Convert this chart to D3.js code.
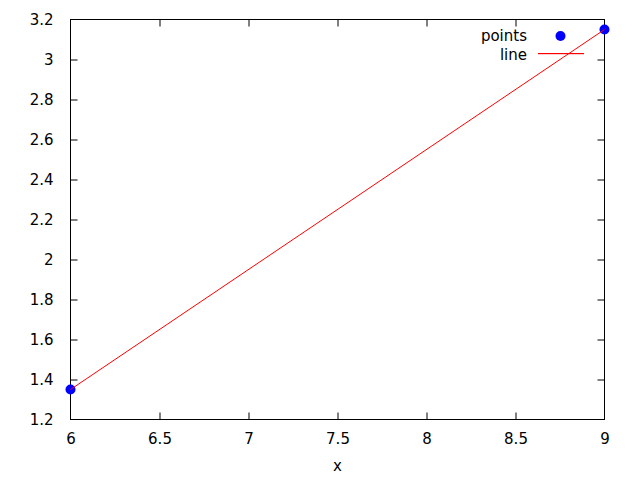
<!DOCTYPE html>
<html><head><meta charset="utf-8">
<script src="https://cdn.jsdelivr.net/npm/d3@7"></script>
<style>body{margin:0;background:#fff}svg{display:block}text{font-family:"DejaVu Sans",sans-serif;font-size:15px;fill:#000}</style>
</head><body><svg id="c" width="640" height="480"></svg>
<script>
const xs = [6, 9];
const ys = [1.35, 3.15];
const xTicks = [6, 6.5, 7, 7.5, 8, 8.5, 9];
const yTicks = [1.2, 1.4, 1.6, 1.8, 2, 2.2, 2.4, 2.6, 2.8, 3, 3.2];
const seriesNames = ["points", "line"];

const svg = d3.select("#c");
const L = 70.5, R = 604.5, T = 19.5, B = 419.5;
const x = d3.scaleLinear().domain([6, 9]).range([L, R]);
const y = d3.scaleLinear().domain([1.2, 3.2]).range([B, T]);
const fmt = d => String(d);

const axB = d3.axisBottom(x).tickValues(xTicks).tickFormat(fmt).tickSizeInner(-7).tickSizeOuter(0).tickPadding(14);
const axT = d3.axisTop(x).tickValues(xTicks).tickFormat("").tickSizeInner(-7).tickSizeOuter(0);
const axL = d3.axisLeft(y).tickValues(yTicks).tickFormat(fmt).tickSizeInner(-7).tickSizeOuter(0).tickPadding(17);
const axR = d3.axisRight(y).tickValues(yTicks).tickFormat("").tickSizeInner(-7).tickSizeOuter(0);

function style(g){ g.selectAll(".domain").remove(); g.selectAll("line").attr("stroke","#000"); g.selectAll("text").attr("font-size",15).attr("font-family","DejaVu Sans").attr("fill","#000"); }
const gb = svg.append("g").attr("transform",`translate(0,${B})`).call(axB).call(style);
gb.selectAll(".tick").filter(d=>d===6||d===9).select("line").remove();
const gt = svg.append("g").attr("transform",`translate(0,${T})`).call(axT).call(style);
gt.selectAll(".tick").filter(d=>d===6||d===9).select("line").remove();
const gl = svg.append("g").attr("transform",`translate(${L},0)`).call(axL).call(style);
gl.selectAll(".tick").filter(d=>d===1.2||d===3.2).select("line").remove();
const gr = svg.append("g").attr("transform",`translate(${R},0)`).call(axR).call(style);
gr.selectAll(".tick").filter(d=>d===1.2||d===3.2).select("line").remove();

svg.append("rect").attr("x",L).attr("y",T).attr("width",R-L).attr("height",B-T).attr("fill","none").attr("stroke","#000");

// points
svg.selectAll("circle.pt").data(xs.map((v,i)=>[v,ys[i]])).enter().append("circle")
  .attr("cx",d=>x(d[0])).attr("cy",d=>y(d[1])).attr("r",5).attr("fill","#0000ff");
// line
svg.append("path").datum(xs.map((v,i)=>[v,ys[i]]))
  .attr("d", d3.line().x(d=>x(d[0])).y(d=>y(d[1])))
  .attr("fill","none").attr("stroke","#ff0000").attr("stroke-width",1);

// legend
svg.append("text").attr("x",527).attr("y",36).attr("dy","0.35em").attr("text-anchor","end").text(seriesNames[0]);
svg.append("circle").attr("cx",560.5).attr("cy",36).attr("r",5).attr("fill","#0000ff");
svg.append("text").attr("x",527).attr("y",55).attr("dy","0.35em").attr("text-anchor","end").text(seriesNames[1]);
svg.append("rect").attr("x",538).attr("y",53).attr("width",46).attr("height",1.2).attr("fill","#ff0000");

// x label
svg.append("text").attr("x",(L+R)/2).attr("y",466).attr("dy","0.35em").attr("text-anchor","middle").text("x");
</script></body></html>
